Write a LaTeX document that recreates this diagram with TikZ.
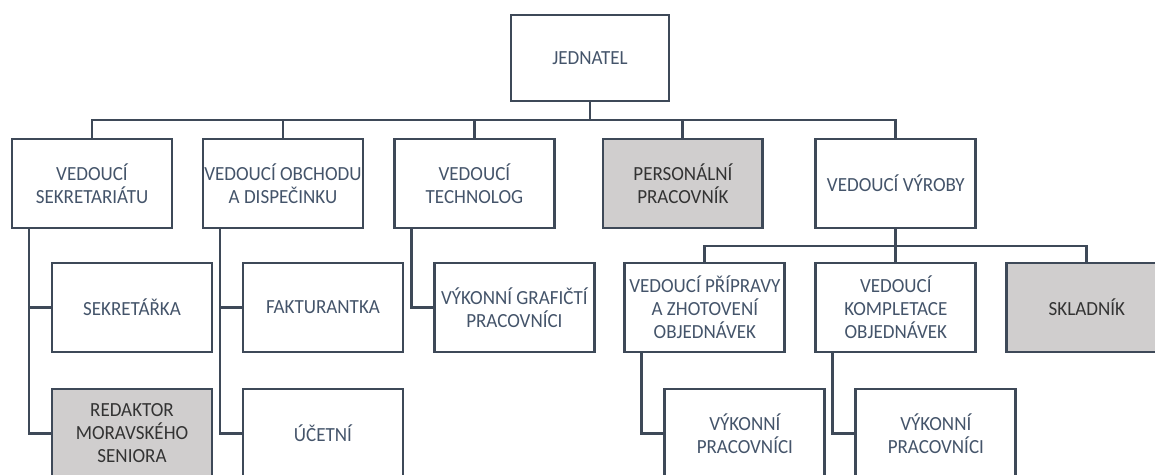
\documentclass[tikz,border=0pt]{standalone}
\usepackage{fontspec}
\setmainfont{Carlito}[FakeStretch=0.95]
\usetikzlibrary{positioning}
\definecolor{linegray}{RGB}{62,73,88}
\definecolor{textblue}{RGB}{68,84,106}
\definecolor{boxgray}{RGB}{208,206,206}

\begin{document}
\begin{tikzpicture}[
  x=0.02cm, y=-0.02cm,    % one unit = one pixel of the layout
  box/.style={rectangle, draw=linegray, line width=1.6pt, fill=white, minimum width=3.2cm, minimum height=1.78cm, inner xsep=0.5pt, outer sep=0pt, align=center, text=textblue, font=\fontsize{11.4}{13.1}\selectfont},
  staff/.style={box, fill=boxgray, text=black!80},
  link/.style={draw=linegray, line width=1.6pt}
]
\useasboundingbox (0,0) rectangle (1155,474);

% Nodes
\node[box, minimum width=3.16cm, minimum height=1.72cm] (jednatel) at (590,58) {JEDNATEL};

\node[box]                              (sekretariat) at (92,183.5) {VEDOUCÍ\\SEKRETARIÁTU};
\node[box,   right=0.62cm of sekretariat] (obchod)     {VEDOUCÍ OBCHODU\\A DISPEČINKU};
\node[box,   right=0.63cm of obchod]      (technolog)  {VEDOUCÍ\\TECHNOLOG};
\node[staff, right=0.97cm of technolog]   (personalni) {PERSONÁLNÍ\\PRACOVNÍK};
\node[box,   right=1.06cm of personalni]  (vyroba)     {VEDOUCÍ VÝROBY};

\node[box,   below right=0.7cm and 0.8cm of sekretariat.south west] (sekretarka)  {SEKRETÁŘKA};
\node[staff, below=0.74cm of sekretarka]                           (redaktor)    {REDAKTOR\\MORAVSKÉHO\\SENIORA};
\node[box,   below right=0.7cm and 0.8cm of obchod.south west]      (fakturantka) {FAKTURANTKA};
\node[box,   below=0.74cm of fakturantka]                          (ucetni)      {ÚČETNÍ};
\node[box,   below right=0.7cm and 0.8cm of technolog.south west]   (graficti)    {VÝKONNÍ GRAFIČTÍ\\PRACOVNÍCI};

\node[box,   below=0.7cm of vyroba]       (kompletace) {VEDOUCÍ\\KOMPLETACE\\OBJEDNÁVEK};
\node[box,   left=0.62cm of kompletace]   (priprava)   {VEDOUCÍ PŘÍPRAVY\\A ZHOTOVENÍ\\OBJEDNÁVEK};
\node[staff, right=0.62cm of kompletace]  (skladnik)   {SKLADNÍK};

\node[box, below right=0.74cm and 0.8cm of priprava.south west]   (vykonnipri) {VÝKONNÍ\\PRACOVNÍCI};
\node[box, below right=0.74cm and 0.8cm of kompletace.south west] (vykonnikom) {VÝKONNÍ\\PRACOVNÍCI};

% Edges
\coordinate (bus)  at ([yshift=-0.38cm]jednatel.south);
\coordinate (vbus) at ([yshift=-0.36cm]vyroba.south);
\draw[link] (jednatel.south) -- (bus);
\foreach \n in {sekretariat,obchod,technolog,personalni,vyroba}
  \draw[link] (bus) -| (\n.north);
\draw[link] (vyroba.south) -- (vbus);
\foreach \n in {priprava,kompletace,skladnik}
  \draw[link] (vbus) -| (\n.north);
\foreach \p/\c in {sekretariat/sekretarka,sekretariat/redaktor,obchod/fakturantka,obchod/ucetni,technolog/graficti,priprava/vykonnipri,kompletace/vykonnikom}
  \draw[link] ([xshift=0.34cm]\p.south west) |- (\c.west);
\end{tikzpicture}
\end{document}
